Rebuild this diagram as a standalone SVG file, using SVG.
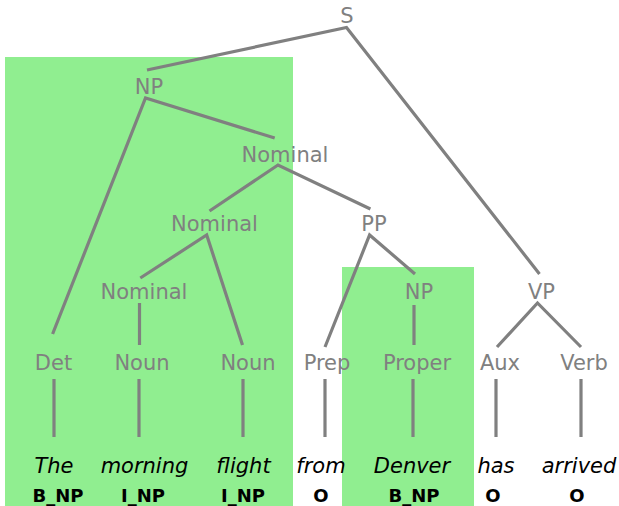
<svg xmlns="http://www.w3.org/2000/svg" width="619" height="506" viewBox="0 0 619 506">
<style>
.hl{fill:#90ee90}
.lbl{font-family:"DejaVu Sans",sans-serif;font-size:21px;fill:#808080;text-anchor:middle}
.w{font-family:"DejaVu Sans",sans-serif;font-size:21px;font-style:italic;fill:#000;text-anchor:middle}
.t{font-family:"DejaVu Sans",sans-serif;font-size:18px;font-weight:bold;fill:#000;text-anchor:middle}
.e{stroke:#808080;stroke-width:3.2;fill:none}
</style>
<rect class="hl" x="5" y="57" width="288" height="449"/>
<rect class="hl" x="342" y="267" width="132" height="239"/>
<g id="connectors">
<path class="e" d="M147,70 L346.5,27.5 L539.5,274"/>
<path class="e" d="M52.6,334 L145.5,98 L274.7,138"/>
<path class="e" d="M209.5,211 L278,165 L370.4,209"/>
<path class="e" d="M140.3,278 L206.7,235 L242.5,345"/>
<path class="e" d="M325,347 L369.6,235 L415,274"/>
<path class="e" d="M139.5,303 L139.5,345"/>
<path class="e" d="M414,305 L414,345"/>
<path class="e" d="M497,347 L537.5,303 L581,347"/>
<path class="e" d="M54,379 V437 M139,379 V437 M243,379 V437 M325,379 V437 M413,379 V437 M496,379 V437 M581,379 V437"/>
</g>
<g id="S"><text class="lbl" x="347" y="23">S</text></g>
<g id="NP"><text class="lbl" x="149" y="94">NP</text></g>
<g id="Nominal1"><text class="lbl" x="285" y="162">Nominal</text></g>
<g id="Nominal2"><text class="lbl" x="214.5" y="231">Nominal</text></g>
<g id="PP"><text class="lbl" x="374" y="231">PP</text></g>
<g id="Nominal3"><text class="lbl" x="144" y="299">Nominal</text></g>
<g id="NP2"><text class="lbl" x="419" y="299">NP</text></g>
<g id="VP"><text class="lbl" x="541.5" y="299">VP</text></g>
<g id="Det"><text class="lbl" x="53.5" y="370">Det</text></g>
<g id="Noun1"><text class="lbl" x="142" y="370">Noun</text></g>
<g id="Noun2"><text class="lbl" x="248" y="370">Noun</text></g>
<g id="Prep"><text class="lbl" x="327" y="370">Prep</text></g>
<g id="Proper"><text class="lbl" x="417" y="370">Proper</text></g>
<g id="Aux"><text class="lbl" x="500" y="370">Aux</text></g>
<g id="Verb"><text class="lbl" x="584" y="370">Verb</text></g>
<g id="words">
<text class="w" x="54" y="473">The</text>
<text class="w" x="144.5" y="473">morning</text>
<text class="w" x="243.5" y="473">flight</text>
<text class="w" x="321" y="473">from</text>
<text class="w" x="412" y="473">Denver</text>
<text class="w" x="496" y="473">has</text>
<text class="w" x="579" y="473">arrived</text>
</g>
<g id="tags">
<text class="t" x="58" y="501.5">B_NP</text>
<text class="t" x="143" y="501.5">I_NP</text>
<text class="t" x="243" y="501.5">I_NP</text>
<text class="t" x="321" y="501.5">O</text>
<text class="t" x="414" y="501.5">B_NP</text>
<text class="t" x="493" y="501.5">O</text>
<text class="t" x="577" y="501.5">O</text>
</g>
</svg>
